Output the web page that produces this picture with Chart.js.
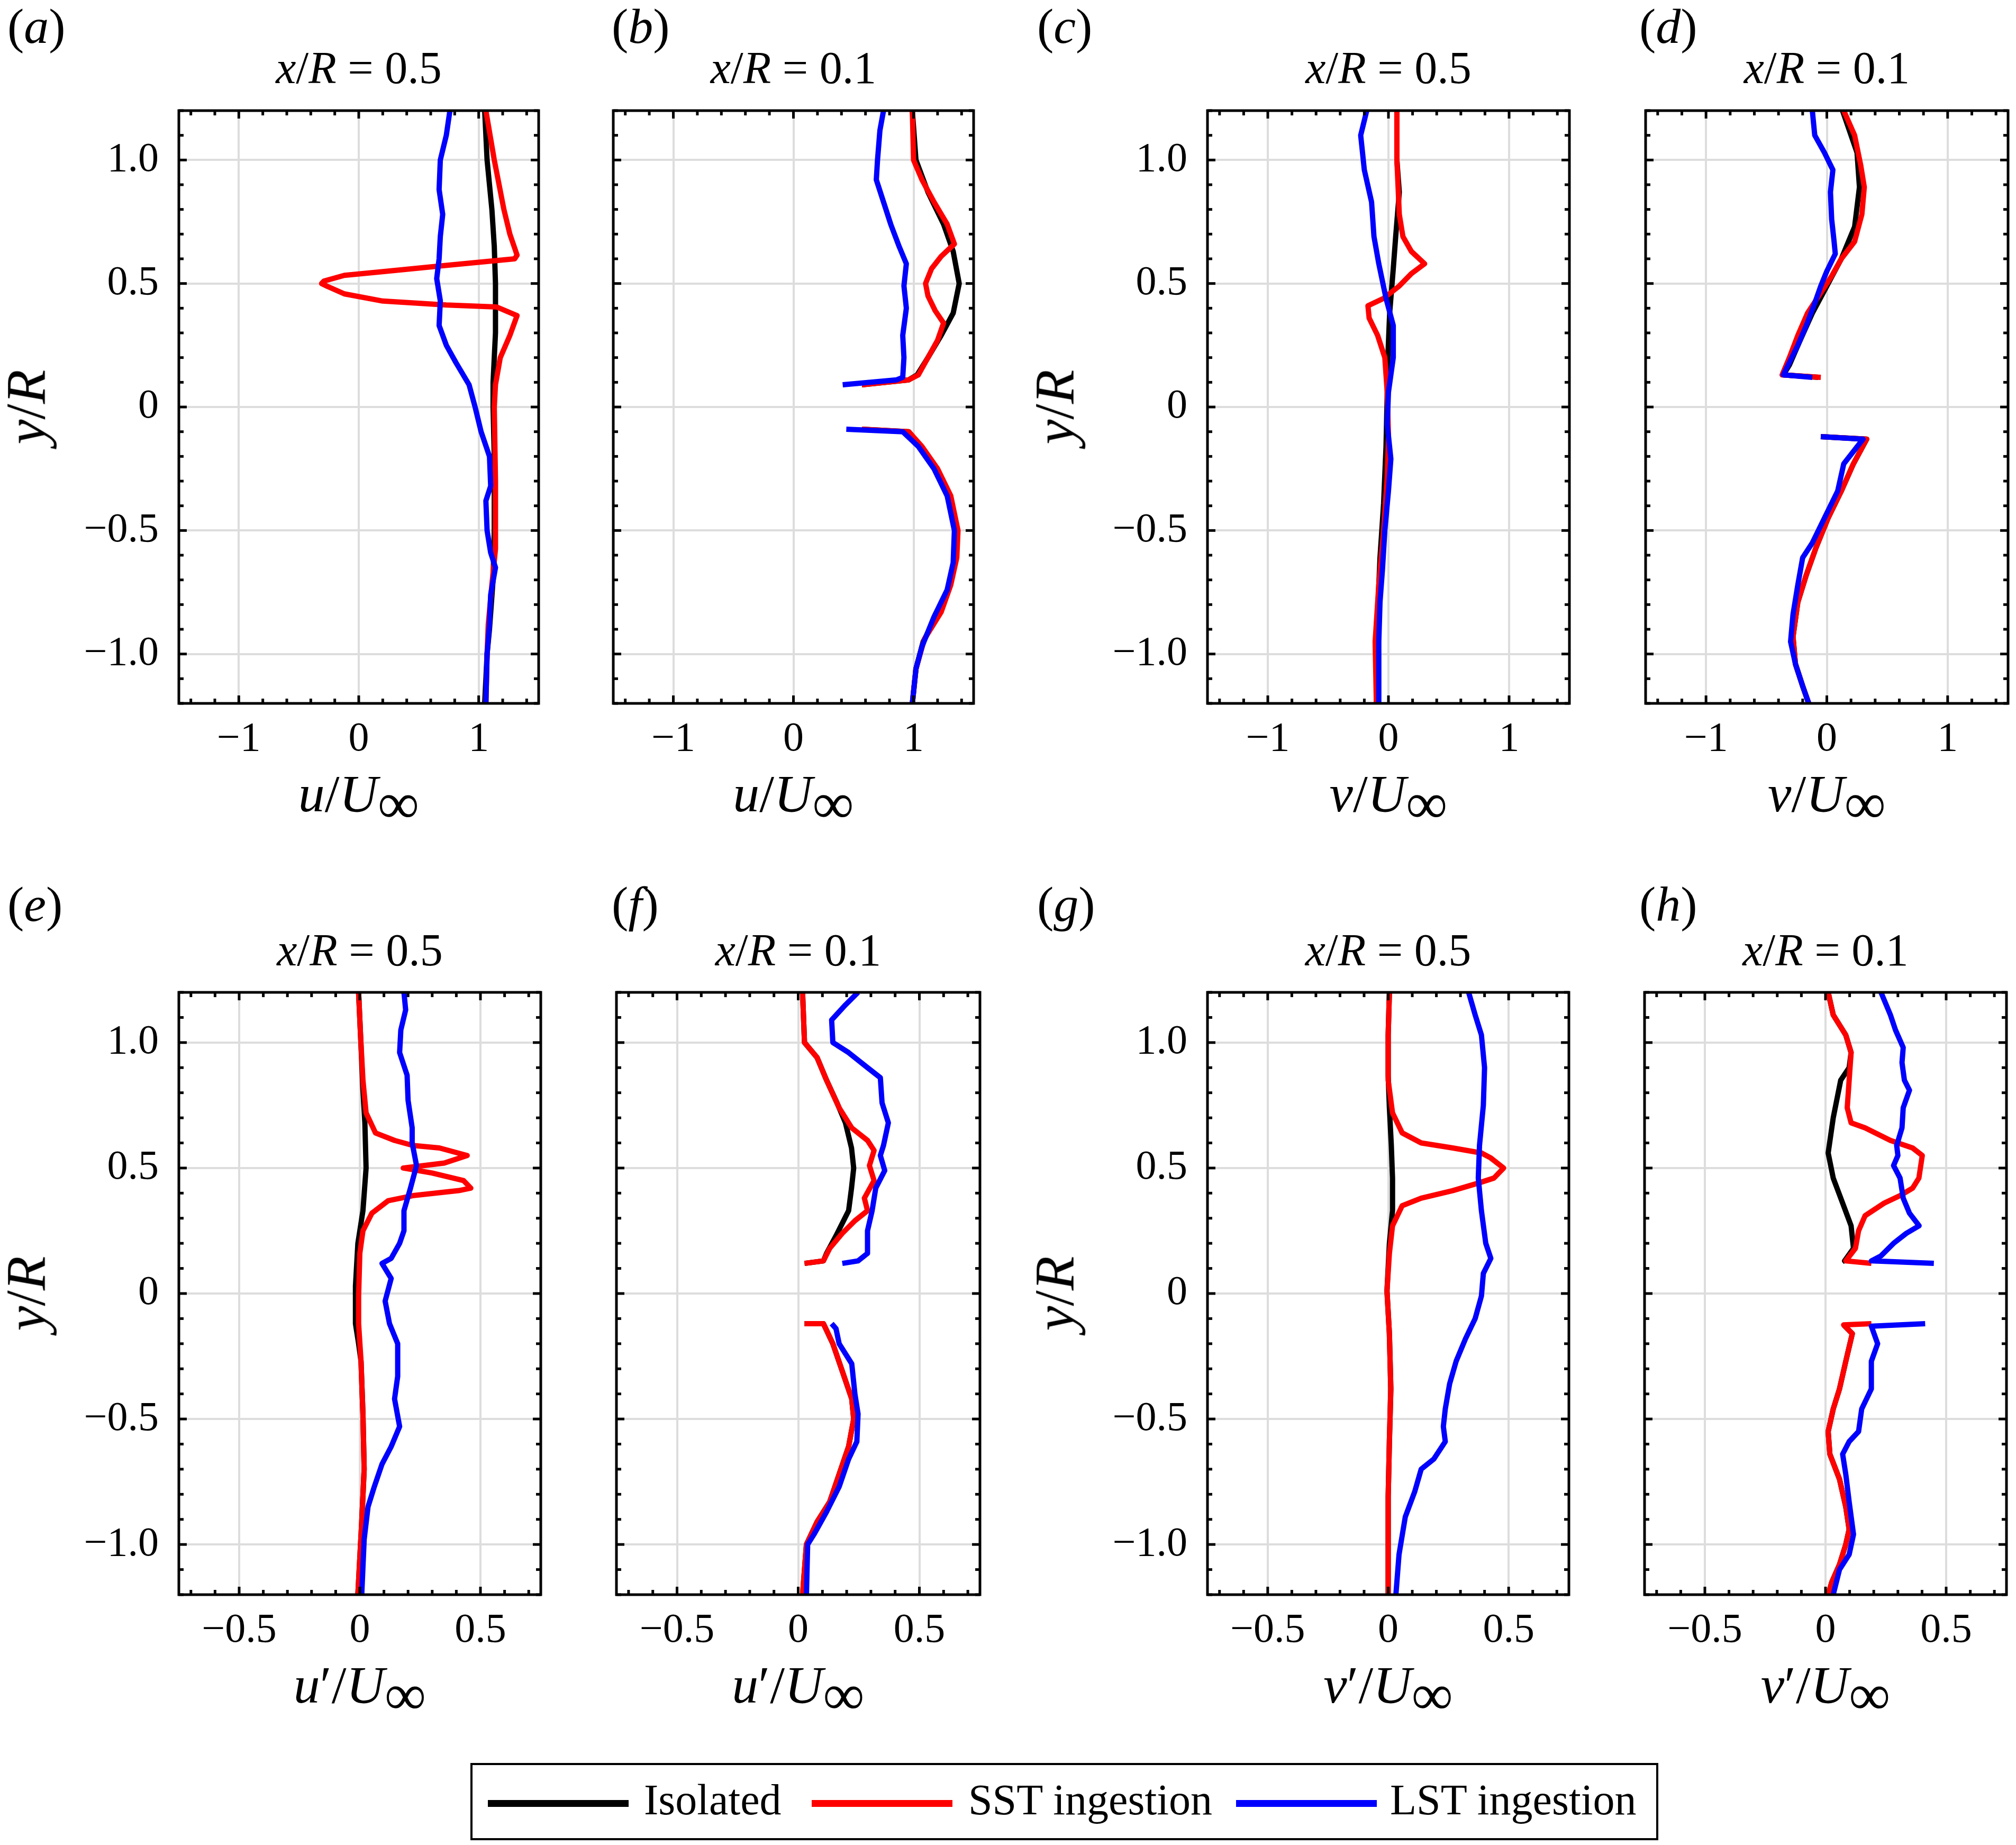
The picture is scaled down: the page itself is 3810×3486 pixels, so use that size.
<!DOCTYPE html>
<html>
<head>
<meta charset="utf-8">
<script src="https://cdn.jsdelivr.net/npm/chart.js@4.4.1/dist/chart.umd.min.js"></script>
<style>
html, body { margin: 0; padding: 0; background: #fff; }
body { width: 3810px; height: 3486px; position: relative; overflow: hidden;
       font-family: "Liberation Serif", "Times New Roman", serif; color: #000; }
.txt { position: absolute; line-height: 0; white-space: nowrap; }
.txt sub { font-size: 110%; vertical-align: -0.2em; line-height: 0; }
.panel { position: absolute; }
#legend { position: absolute; left: 889px; top: 3331px; width: 2237px; height: 138px; border: 4px solid #000; }
.swatch { position: absolute; height: 13px; width: 266px; }
</style>
</head>
<body>
<div id="legend"></div>
<script>
// ---- data: [x, y/R] pairs, null = gap at the hub ----
const a_iso = [[1.05,1.2],[1.07,1.0],[1.11,0.8],[1.13,0.65],[1.14,0.5],[1.14,0.3],[1.12,0.1],[1.12,0],[1.13,-0.2],[1.13,-0.5],[1.12,-0.7],[1.09,-0.9],[1.07,-1.0],[1.05,-1.2]];
const a_sst = [[1.06,1.2],[1.13,1.0],[1.21,0.8],[1.26,0.7],[1.32,0.615],[1.30,0.60],[0.68,0.571],[0.20,0.548],[-0.12,0.533],[-0.29,0.51],[-0.31,0.50],[-0.26,0.488],[-0.12,0.458],[0.20,0.429],[0.73,0.413],[1.15,0.405],[1.32,0.37],[1.26,0.29],[1.18,0.2],[1.14,0.09],[1.13,0],[1.14,-0.3],[1.14,-0.575],[1.11,-0.72],[1.08,-0.88],[1.07,-1.0],[1.06,-1.2]];
const a_lst = [[0.76,1.2],[0.73,1.1],[0.68,1.0],[0.67,0.88],[0.70,0.78],[0.68,0.69],[0.67,0.6],[0.65,0.52],[0.68,0.43],[0.67,0.33],[0.73,0.25],[0.81,0.18],[0.92,0.09],[0.97,0],[1.02,-0.1],[1.09,-0.2],[1.10,-0.32],[1.06,-0.38],[1.07,-0.5],[1.10,-0.59],[1.14,-0.65],[1.10,-0.76],[1.09,-0.88],[1.07,-1.0],[1.06,-1.2]];

const b_iso = [[0.99,1.2],[1.02,1.0],[1.12,0.87],[1.25,0.74],[1.33,0.63],[1.38,0.5],[1.33,0.38],[1.23,0.29],[1.12,0.2],[1.03,0.13],[0.96,0.11],[0.57,0.09],null,[0.57,-0.09],[0.96,-0.1],[1.06,-0.16],[1.19,-0.25],[1.30,-0.36],[1.36,-0.5],[1.35,-0.62],[1.30,-0.73],[1.20,-0.84],[1.08,-0.95],[1.02,-1.06],[0.99,-1.2]];
const b_sst = [[0.99,1.2],[1.0,1.0],[1.07,0.92],[1.17,0.83],[1.28,0.74],[1.34,0.66],[1.23,0.61],[1.15,0.56],[1.10,0.5],[1.12,0.45],[1.18,0.39],[1.25,0.34],[1.20,0.27],[1.12,0.2],[1.04,0.13],[0.96,0.11],[0.57,0.09],null,[0.57,-0.09],[0.96,-0.1],[1.07,-0.16],[1.20,-0.25],[1.31,-0.36],[1.37,-0.5],[1.36,-0.61],[1.31,-0.72],[1.23,-0.83],[1.09,-0.94],[1.02,-1.06],[0.99,-1.2]];
const b_lst = [[0.75,1.2],[0.72,1.12],[0.70,1.0],[0.69,0.92],[0.75,0.83],[0.81,0.74],[0.88,0.65],[0.94,0.58],[0.92,0.49],[0.94,0.4],[0.91,0.29],[0.92,0.2],[0.91,0.12],[0.86,0.11],[0.41,0.09],null,[0.44,-0.09],[0.91,-0.1],[1.04,-0.16],[1.17,-0.25],[1.28,-0.36],[1.34,-0.5],[1.33,-0.63],[1.28,-0.74],[1.17,-0.85],[1.07,-0.97],[1.02,-1.06],[0.99,-1.2]];

const c_iso = [[0.07,1.2],[0.07,1.0],[0.09,0.87],[0.06,0.69],[0.04,0.56],[0.01,0.38],[-0.005,0.2],[-0.01,0.06],[-0.02,-0.16],[-0.04,-0.39],[-0.07,-0.61],[-0.09,-0.84],[-0.1,-1.2]];
const c_sst = [[0.07,1.2],[0.07,1.0],[0.09,0.78],[0.12,0.69],[0.19,0.63],[0.30,0.58],[0.19,0.54],[0.09,0.49],[-0.04,0.44],[-0.17,0.41],[-0.16,0.36],[-0.09,0.29],[-0.03,0.2],[-0.01,0.06],[0,-0.12],[-0.01,-0.28],[-0.04,-0.5],[-0.08,-0.72],[-0.11,-0.95],[-0.1,-1.2]];
const c_lst = [[-0.18,1.2],[-0.23,1.1],[-0.2,0.96],[-0.14,0.83],[-0.12,0.69],[-0.08,0.58],[-0.02,0.44],[0.04,0.33],[0.04,0.2],[0.0,0.06],[-0.01,-0.07],[0.02,-0.21],[0,-0.34],[-0.03,-0.5],[-0.05,-0.66],[-0.07,-0.79],[-0.08,-0.95],[-0.08,-1.2]];

const d_iso = [[0.13,1.2],[0.25,1.03],[0.27,0.89],[0.23,0.73],[0.12,0.6],[0.0,0.49],[-0.12,0.38],[-0.23,0.26],[-0.31,0.17],[-0.36,0.13],[-0.07,0.12],null,[-0.05,-0.12],[0.33,-0.13],[0.22,-0.23],[0.12,-0.34],[0.01,-0.45],[-0.09,-0.57],[-0.17,-0.68],[-0.24,-0.79],[-0.28,-0.93],[-0.26,-1.04],[-0.2,-1.13],[-0.15,-1.2]];
const d_sst = [[0.14,1.2],[0.23,1.1],[0.28,0.98],[0.31,0.89],[0.29,0.78],[0.23,0.67],[0.12,0.6],[0.04,0.53],[-0.04,0.47],[-0.16,0.38],[-0.24,0.29],[-0.31,0.2],[-0.37,0.13],[-0.05,0.12],null,[-0.05,-0.12],[0.33,-0.13],[0.22,-0.23],[0.12,-0.34],[0.01,-0.45],[-0.09,-0.57],[-0.17,-0.68],[-0.24,-0.79],[-0.28,-0.93],[-0.26,-1.04],[-0.2,-1.13],[-0.15,-1.2]];
const d_lst = [[-0.12,1.2],[-0.1,1.1],[-0.02,1.03],[0.05,0.96],[0.03,0.87],[0.04,0.76],[0.06,0.67],[0.07,0.62],[0.0,0.55],[-0.05,0.49],[-0.1,0.42],[-0.17,0.33],[-0.24,0.25],[-0.32,0.17],[-0.36,0.13],[-0.12,0.12],null,[-0.05,-0.12],[0.30,-0.13],[0.14,-0.23],[0.09,-0.34],[-0.02,-0.45],[-0.12,-0.55],[-0.2,-0.61],[-0.24,-0.72],[-0.28,-0.84],[-0.3,-0.95],[-0.26,-1.04],[-0.2,-1.13],[-0.15,-1.2]];

const e_iso = [[-0.005,1.2],[0.003,1.03],[0.013,0.81],[0.021,0.68],[0.026,0.5],[0.013,0.33],[-0.008,0.2],[-0.018,0.03],[-0.018,-0.12],[-0.005,-0.2],[0.005,-0.27],[0.013,-0.48],[0.018,-0.7],[0.008,-0.91],[-0.008,-1.2]];
const e_sst = [[-0.005,1.2],[0.003,1.03],[0.013,0.85],[0.026,0.72],[0.065,0.64],[0.144,0.61],[0.22,0.59],[0.33,0.58],[0.445,0.55],[0.35,0.52],[0.18,0.5],[0.30,0.48],[0.43,0.45],[0.46,0.42],[0.41,0.41],[0.22,0.39],[0.118,0.37],[0.05,0.32],[0.013,0.25],[0,0.16],[-0.005,-0.01],[-0.005,-0.12],[0.005,-0.27],[0.013,-0.48],[0.018,-0.7],[0.008,-0.91],[-0.008,-1.2]];
const e_lst = [[0.183,1.2],[0.19,1.13],[0.17,1.05],[0.165,0.96],[0.196,0.87],[0.2,0.77],[0.217,0.66],[0.217,0.6],[0.235,0.51],[0.21,0.42],[0.183,0.33],[0.183,0.25],[0.165,0.2],[0.13,0.14],[0.092,0.12],[0.13,0.06],[0.105,-0.03],[0.123,-0.12],[0.157,-0.2],[0.157,-0.33],[0.144,-0.42],[0.165,-0.53],[0.13,-0.61],[0.092,-0.68],[0.06,-0.77],[0.034,-0.85],[0.018,-0.98],[0.008,-1.2]];

const f_iso = [[0.018,1.2],[0.026,1.0],[0.078,0.94],[0.117,0.85],[0.16,0.76],[0.195,0.68],[0.22,0.58],[0.229,0.5],[0.22,0.42],[0.208,0.33],[0.156,0.23],[0.117,0.16],[0.104,0.13],[0.026,0.12],null,[0.026,-0.12],[0.104,-0.12],[0.143,-0.2],[0.182,-0.31],[0.221,-0.42],[0.229,-0.5],[0.208,-0.61],[0.169,-0.72],[0.13,-0.83],[0.078,-0.91],[0.034,-1.0],[0.018,-1.2]];
const f_sst = [[0.018,1.2],[0.026,1.0],[0.078,0.94],[0.117,0.85],[0.169,0.74],[0.221,0.66],[0.286,0.61],[0.313,0.57],[0.294,0.51],[0.313,0.45],[0.273,0.38],[0.286,0.33],[0.234,0.29],[0.182,0.24],[0.13,0.18],[0.104,0.13],[0.026,0.12],null,[0.026,-0.12],[0.104,-0.12],[0.143,-0.2],[0.182,-0.31],[0.221,-0.42],[0.229,-0.5],[0.208,-0.61],[0.169,-0.72],[0.13,-0.83],[0.078,-0.91],[0.034,-1.0],[0.018,-1.2]];
const f_lst = [[0.247,1.2],[0.195,1.15],[0.138,1.09],[0.143,1.0],[0.208,0.96],[0.286,0.9],[0.339,0.86],[0.346,0.76],[0.372,0.68],[0.352,0.59],[0.339,0.55],[0.357,0.49],[0.32,0.42],[0.305,0.33],[0.286,0.25],[0.286,0.16],[0.247,0.13],[0.182,0.12],null,[0.138,-0.12],[0.156,-0.14],[0.169,-0.2],[0.221,-0.28],[0.234,-0.4],[0.247,-0.48],[0.242,-0.59],[0.208,-0.66],[0.169,-0.77],[0.117,-0.87],[0.065,-0.96],[0.039,-1.0],[0.034,-1.2]];

const g_iso = [[0.005,1.2],[0,1.03],[0,0.87],[0.005,0.74],[0.013,0.59],[0.018,0.46],[0.018,0.33],[0.005,0.2],[-0.005,0.01],[0.005,-0.16],[0.011,-0.38],[0.005,-0.59],[0,-0.81],[0,-1.2]];
const g_sst = [[0.005,1.2],[0,1.03],[0,0.85],[0.018,0.72],[0.058,0.64],[0.137,0.6],[0.268,0.58],[0.387,0.56],[0.426,0.54],[0.479,0.5],[0.439,0.46],[0.374,0.44],[0.268,0.41],[0.137,0.38],[0.058,0.35],[0.018,0.27],[0.005,0.16],[-0.005,0.01],[0.005,-0.16],[0.011,-0.38],[0.005,-0.59],[0,-0.81],[0,-1.2]];
const g_lst = [[0.334,1.2],[0.361,1.11],[0.387,1.03],[0.4,0.9],[0.395,0.75],[0.379,0.59],[0.374,0.46],[0.387,0.33],[0.405,0.2],[0.426,0.14],[0.395,0.08],[0.387,-0.01],[0.361,-0.1],[0.321,-0.18],[0.282,-0.27],[0.255,-0.36],[0.237,-0.46],[0.229,-0.53],[0.237,-0.59],[0.189,-0.66],[0.137,-0.7],[0.11,-0.79],[0.071,-0.89],[0.045,-1.04],[0.032,-1.2]];

const h_iso = [[0.011,1.2],[0.032,1.11],[0.084,1.03],[0.106,0.96],[0.098,0.9],[0.063,0.85],[0.032,0.7],[0.011,0.56],[0.032,0.46],[0.071,0.36],[0.106,0.27],[0.116,0.18],[0.079,0.13],[0.084,0.125],null,[0.075,-0.125],[0.111,-0.16],[0.084,-0.27],[0.058,-0.38],[0.032,-0.46],[0.011,-0.55],[0.018,-0.64],[0.058,-0.74],[0.084,-0.85],[0.098,-0.94],[0.084,-1.0],[0.058,-1.08],[0.026,-1.15],[0.011,-1.2]];
const h_sst = [[0.011,1.2],[0.032,1.11],[0.084,1.03],[0.106,0.96],[0.098,0.85],[0.09,0.74],[0.106,0.68],[0.164,0.66],[0.269,0.61],[0.361,0.58],[0.401,0.55],[0.387,0.46],[0.361,0.42],[0.309,0.39],[0.243,0.36],[0.164,0.31],[0.137,0.25],[0.124,0.18],[0.084,0.13],[0.19,0.12],null,[0.19,-0.12],[0.075,-0.125],[0.111,-0.16],[0.084,-0.27],[0.058,-0.38],[0.032,-0.46],[0.011,-0.55],[0.018,-0.64],[0.058,-0.74],[0.084,-0.85],[0.098,-0.94],[0.084,-1.0],[0.058,-1.08],[0.026,-1.15],[0.011,-1.2]];
const h_lst = [[0.23,1.2],[0.269,1.11],[0.29,1.05],[0.322,0.98],[0.317,0.92],[0.327,0.85],[0.348,0.81],[0.322,0.74],[0.317,0.66],[0.295,0.59],[0.3,0.55],[0.282,0.51],[0.309,0.46],[0.322,0.38],[0.348,0.32],[0.388,0.27],[0.335,0.24],[0.282,0.2],[0.23,0.15],[0.19,0.13],[0.449,0.12],null,[0.413,-0.12],[0.19,-0.13],[0.216,-0.2],[0.19,-0.27],[0.19,-0.38],[0.15,-0.46],[0.137,-0.55],[0.098,-0.59],[0.071,-0.64],[0.084,-0.72],[0.098,-0.83],[0.116,-0.96],[0.098,-1.04],[0.058,-1.1],[0.032,-1.2]];

// ---- axes ----
const yTicks = [-1, -0.5, 0, 0.5, 1];
const meanTicks = [-1, 0, 1];
const flucTicks = [-0.5, 0, 0.5];
const stations = ['0.5', '0.1'];
const seriesNames = ['Isolated', 'SST ingestion', 'LST ingestion'];
const seriesColors = ['#000000', '#ff0000', '#0000ff'];

const SERIF = '"Liberation Serif", "Times New Roman", serif';
const PAD_L = 300, PAD_T = 110, PAD_R = 50, PAD_B = 150;

const axes = {
  u:  { min: -1.5, max: 1.5, ticks: meanTicks, minor: 0.2, dec: 0, label: '<i>u</i>/<i>U</i><sub>\u221e</sub>' },
  v:  { min: -1.5, max: 1.5, ticks: meanTicks, minor: 0.2, dec: 0, label: '<i>v</i>/<i>U</i><sub>\u221e</sub>' },
  up: { min: -0.75, max: 0.75, ticks: flucTicks, minor: 0.1, dec: 1, label: '<i>u</i>\u2032/<i>U</i><sub>\u221e</sub>' },
  vp: { min: -0.75, max: 0.75, ticks: flucTicks, minor: 0.1, dec: 1, label: '<i>v</i>\u2032/<i>U</i><sub>\u221e</sub>' }
};

const rows = [
  { top: 209,  h: 1120, tagBase: 81,   titleBase: 157,  xlabBase: 1534 },
  { top: 1875, h: 1138, tagBase: 1740, titleBase: 1824, xlabBase: 3218 }
];

const panels = [
  { tag: 'a', row: 0, left: 338,  w: 680, ax: 'u',  st: 0, ylab: true,  tagX: 14,   series: [a_iso, a_sst, a_lst] },
  { tag: 'b', row: 0, left: 1159, w: 681, ax: 'u',  st: 1, ylab: false, tagX: 1156, series: [b_iso, b_sst, b_lst] },
  { tag: 'c', row: 0, left: 2282, w: 684, ax: 'v',  st: 0, ylab: true,  tagX: 1960, series: [c_iso, c_sst, c_lst] },
  { tag: 'd', row: 0, left: 3110, w: 685, ax: 'v',  st: 1, ylab: false, tagX: 3098, series: [d_iso, d_sst, d_lst] },
  { tag: 'e', row: 1, left: 338,  w: 684, ax: 'up', st: 0, ylab: true,  tagX: 14,   series: [e_iso, e_sst, e_lst] },
  { tag: 'f', row: 1, left: 1165, w: 687, ax: 'up', st: 1, ylab: false, tagX: 1156, series: [f_iso, f_sst, f_lst] },
  { tag: 'g', row: 1, left: 2282, w: 683, ax: 'vp', st: 0, ylab: true,  tagX: 1960, series: [g_iso, g_sst, g_lst] },
  { tag: 'h', row: 1, left: 3108, w: 684, ax: 'vp', st: 1, ylab: false, tagX: 3098, series: [h_iso, h_sst, h_lst] }
];

function signed(v, dec) {
  if (v === 0) return '0';
  return (v < 0 ? '\u2212' : '') + Math.abs(v).toFixed(dec);
}

// text placed by its baseline (line-height 0 puts the baseline at 0.3375em)
function addText(html, x, base, size, align) {
  const d = document.createElement('div');
  d.className = 'txt';
  d.innerHTML = html;
  d.style.fontSize = size + 'px';
  d.style.left = x + 'px';
  d.style.top = (base - 0.3375 * size) + 'px';
  if (align === 'center') d.style.transform = 'translateX(-50%)';
  document.body.appendChild(d);
  return d;
}

function addVText(html, baseX, cy, size) {
  const d = document.createElement('div');
  d.className = 'txt';
  d.innerHTML = html;
  d.style.fontSize = size + 'px';
  d.style.left = baseX + 'px';
  d.style.top = cy + 'px';
  d.style.transformOrigin = '0 0';
  d.style.transform = 'rotate(-90deg) translate(-50%, -0.3375em)';
  document.body.appendChild(d);
}

// box round the plot area with inward ticks on all four sides
const framePlugin = {
  id: 'frame',
  afterDatasetsDraw(chart) {
    const { ctx, chartArea: a, scales: { x, y } } = chart;
    const o = chart.options.plugins.frame;
    ctx.save();
    ctx.strokeStyle = '#000';
    ctx.lineWidth = 5;
    ctx.lineCap = 'butt';
    function seg(x0, y0, x1, y1) { ctx.beginPath(); ctx.moveTo(x0, y0); ctx.lineTo(x1, y1); ctx.stroke(); }
    function steps(min, max, step) {
      const out = [];
      for (let k = Math.ceil(min / step - 1e-9); k <= Math.floor(max / step + 1e-9); k++) out.push(+(k * step).toFixed(6));
      return out;
    }
    steps(x.min, x.max, o.xMinor).forEach(v => {
      const len = o.xMajor.includes(v) ? 15 : 9;
      const px = x.getPixelForValue(v);
      seg(px, a.bottom, px, a.bottom - len);
      seg(px, a.top, px, a.top + len);
    });
    steps(y.min, y.max, o.yMinor).forEach(v => {
      const len = o.yMajor.includes(v) ? 15 : 9;
      const py = y.getPixelForValue(v);
      seg(a.left, py, a.left + len, py);
      seg(a.right, py, a.right - len, py);
    });
    ctx.strokeRect(a.left, a.top, a.right - a.left, a.bottom - a.top);
    ctx.restore();
  }
};

function toPoints(pairs) {
  return pairs.map(p => p === null ? { x: null, y: null } : { x: p[0], y: p[1] });
}

panels.forEach(p => {
  const row = rows[p.row];
  const ax = axes[p.ax];
  const wrap = document.createElement('div');
  wrap.className = 'panel';
  wrap.style.left = (p.left - PAD_L) + 'px';
  wrap.style.top = (row.top - PAD_T) + 'px';
  const canvas = document.createElement('canvas');
  canvas.width = p.w + PAD_L + PAD_R;
  canvas.height = row.h + PAD_T + PAD_B;
  wrap.appendChild(canvas);
  document.body.appendChild(wrap);

  const tickFont = { family: SERIF, size: 78 };
  const grid = { color: '#dddddd', lineWidth: 4, drawTicks: false };

  new Chart(canvas, {
    type: 'scatter',
    data: {
      datasets: p.series.map((s, i) => ({
        label: seriesNames[i],
        data: toPoints(s),
        showLine: true,
        borderColor: seriesColors[i],
        backgroundColor: seriesColors[i],
        borderWidth: 10,
        pointRadius: 0,
        pointHoverRadius: 0,
        tension: 0,
        spanGaps: false,
        borderJoinStyle: 'round',
        order: 3 - i
      }))
    },
    options: {
      responsive: false,
      animation: false,
      devicePixelRatio: 1,
      events: [],
      layout: { padding: { left: 0, top: PAD_T, right: PAD_R, bottom: 0 } },
      plugins: {
        legend: { display: false },
        tooltip: { enabled: false },
        frame: { xMinor: ax.minor, xMajor: ax.ticks, yMinor: 0.1, yMajor: yTicks }
      },
      scales: {
        x: {
          type: 'linear', min: ax.min, max: ax.max,
          afterBuildTicks: s => { s.ticks = ax.ticks.map(v => ({ value: v })); },
          afterFit: s => { s.height = PAD_B; },
          grid: grid,
          border: { display: false },
          ticks: { font: tickFont, color: '#000', padding: 22, maxRotation: 0,
                   callback: v => signed(v, ax.dec) }
        },
        y: {
          type: 'linear', min: -1.2, max: 1.2,
          afterBuildTicks: s => { s.ticks = yTicks.map(v => ({ value: v })); },
          afterFit: s => { s.width = PAD_L; },
          grid: grid,
          border: { display: false },
          ticks: { display: p.ylab, font: tickFont, color: '#000', padding: 38,
                   callback: v => signed(v, 1) }
        }
      }
    },
    plugins: [framePlugin]
  });

  const cx = p.left + p.w / 2;
  addText('(<i>' + p.tag + '</i>)', p.tagX, row.tagBase, 94, 'left');
  addText('<i>x</i>/<i>R</i> = ' + stations[p.st], cx, row.titleBase, 86, 'center');
  addText(ax.label, cx, row.xlabBase, 100, 'center');
  if (p.ylab) addVText('<i>y</i>/<i>R</i>', p.left - 253, row.top + row.h / 2, 106);
});

// shared legend under the panels
const legendItems = [
  { line: 922,  text: 1217 },
  { line: 1534, text: 1830 },
  { line: 2336, text: 2627 }
];
legendItems.forEach((it, i) => {
  const sw = document.createElement('div');
  sw.className = 'swatch';
  sw.style.left = it.line + 'px';
  sw.style.top = (3407 - 6) + 'px';
  sw.style.background = seriesColors[i];
  document.body.appendChild(sw);
  addText(seriesNames[i], it.text, 3429, 82, 'left');
});
</script>
</body>
</html>
